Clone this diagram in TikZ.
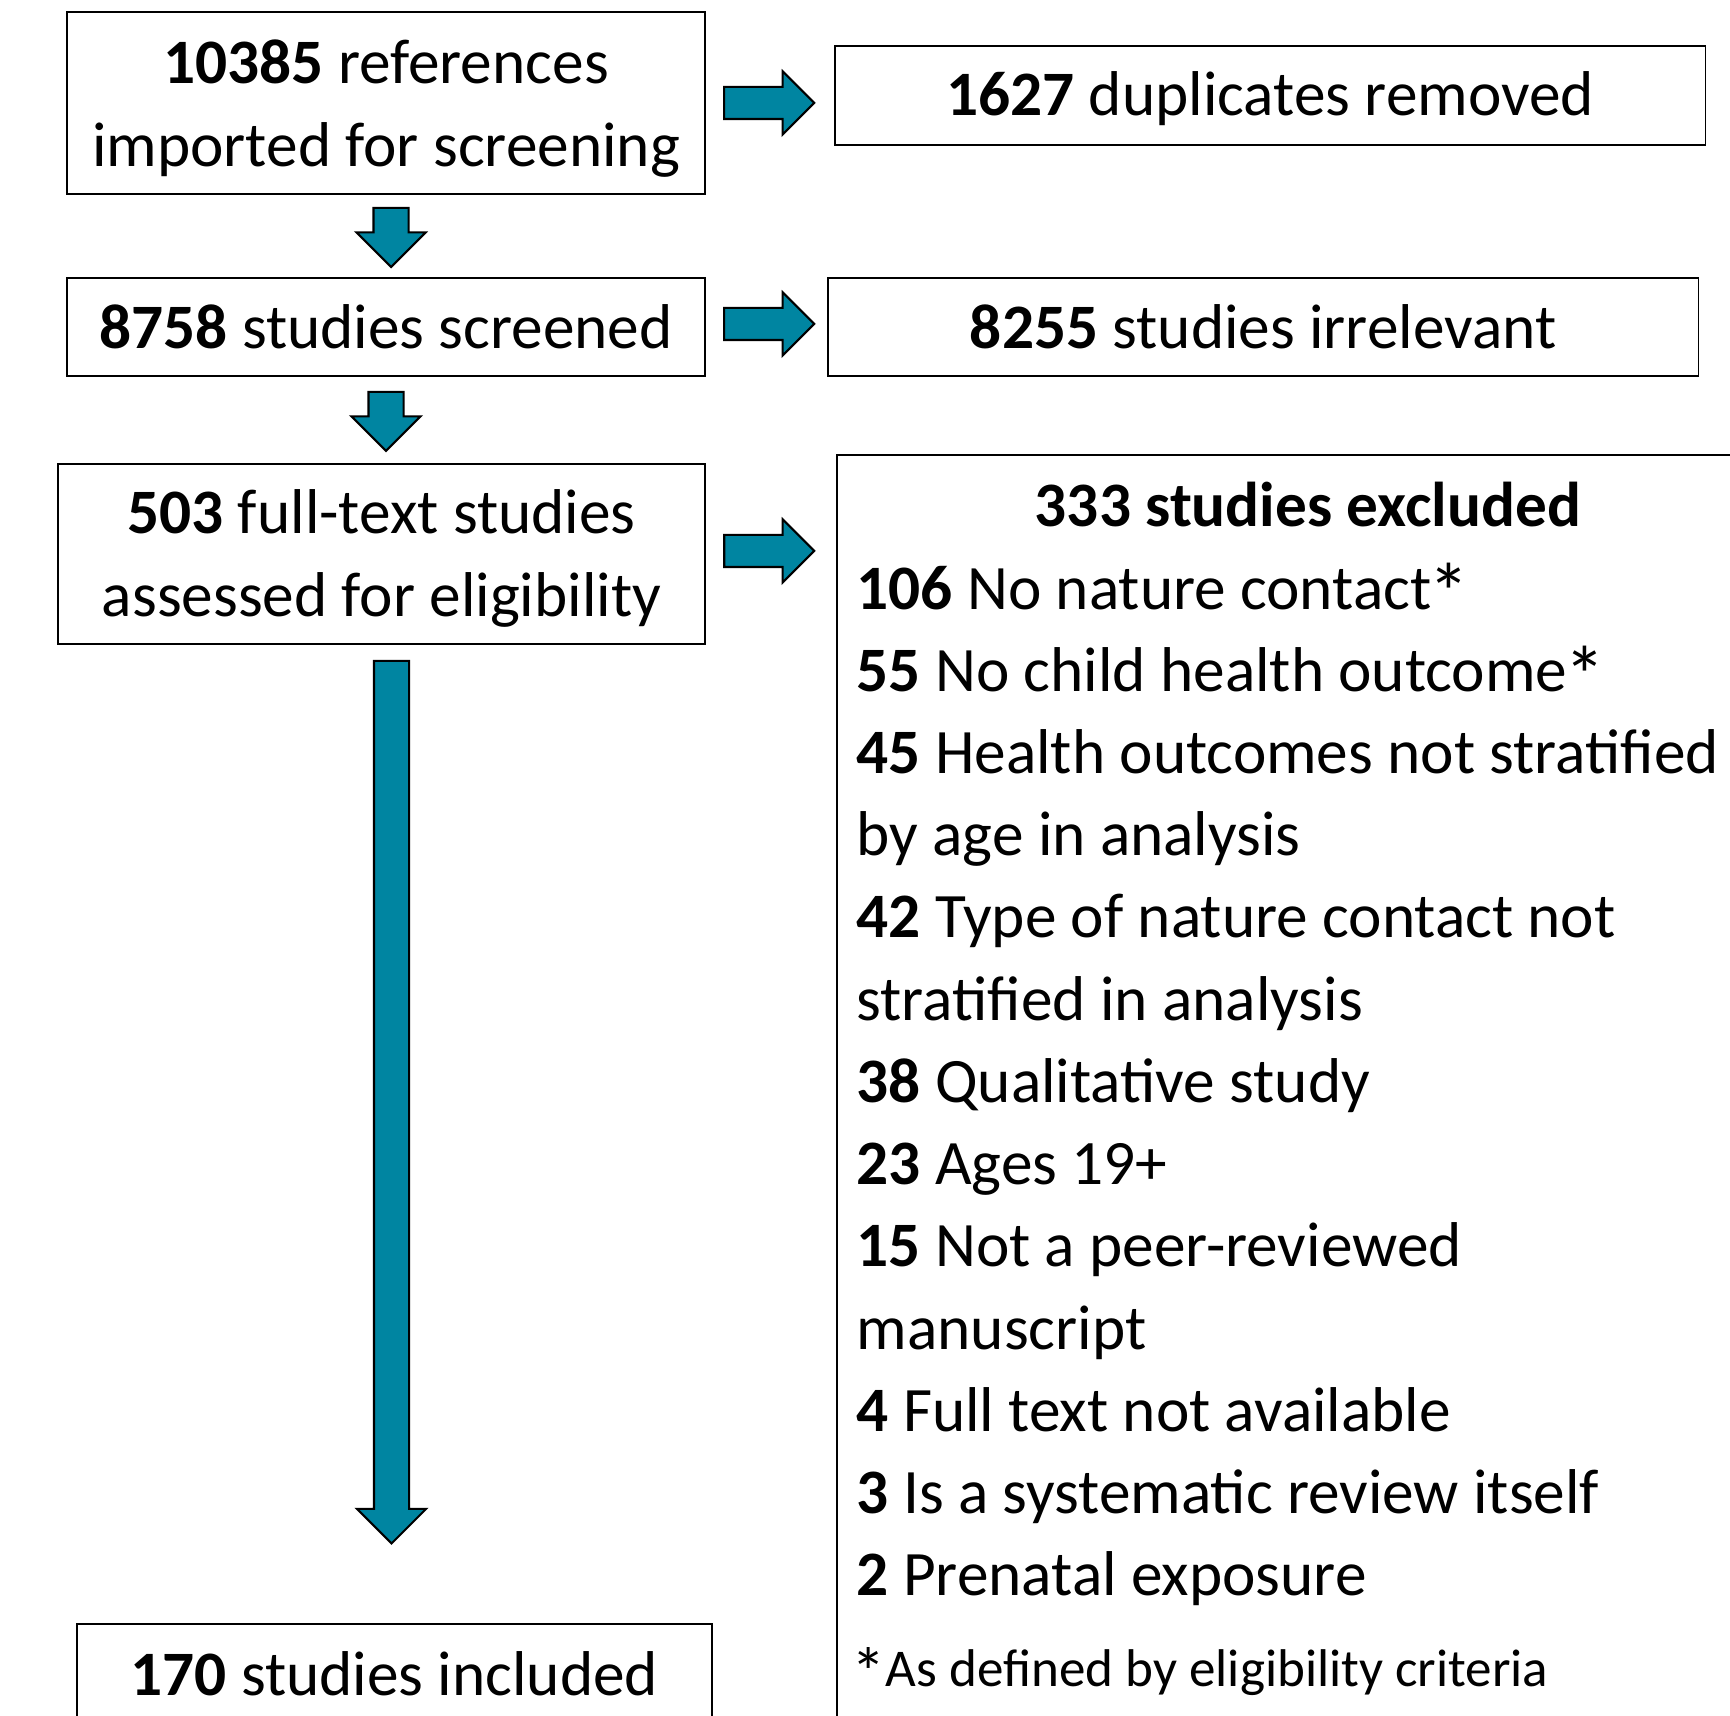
\documentclass[tikz,border=0pt]{standalone}
\usepackage{fontspec}
\setmainfont{Carlito}
\usetikzlibrary{shapes.arrows,calc}
\definecolor{arrowteal}{RGB}{0,133,161}
\newcommand{\starmark}{\kern-0.04em\raisebox{-0.2em}{\scalebox{1.3}{*}}}
% lower the ink of a text without changing its box
\newcommand{\lowered}[2]{\raisebox{-#1}[\height][\depth]{#2}}
\newcommand{\twolines}[3]{\lowered{#1}{\begin{tabular}{@{}c@{}}#2\\#3\end{tabular}}}

\tikzset{
  box/.style={draw=black, line width=0.5pt, rectangle, anchor=north west,
    inner sep=0pt, align=center, font=\fontsize{18pt}{23.5pt}\selectfont},
  listitem/.style={anchor=base west, inner sep=0pt, font=\fontsize{18pt}{23.3pt}\selectfont},
  rarrow/.style={single arrow, draw=black, fill=arrowteal, line width=0.6pt,
    inner sep=0.15cm, anchor=tail, single arrow head indent=0pt,
    minimum height=0.9cm, minimum width=0.61cm, single arrow head extend=0.155cm},
  darrow/.style={rarrow, shape border rotate=270, inner sep=0.165cm,
    minimum height=0.59cm, minimum width=0.67cm, single arrow head extend=0.17cm}
}

\begin{document}
\begin{tikzpicture}[x=0.01cm, y=-0.01cm]
  \useasboundingbox (0,0) rectangle (1730,1716);
  \clip (0,0) rectangle (1730,1716);

  % left column
  \node[box, minimum width=6.38cm, minimum height=1.82cm] (refs) at (66,11)
    {\twolines{1.5pt}{\textbf{10385} references}{imported for screening}};
  \node[box, minimum width=6.38cm, minimum height=0.98cm] (screened) at (66,277)
    {\textbf{8758} studies screened};
  \node[box, minimum width=6.47cm, minimum height=1.80cm] (full) at (57,463)
    {\twolines{1.3pt}{\textbf{503} full-text studies}{assessed for eligibility}};
  \node[box, minimum width=6.35cm, minimum height=1.00cm] (included) at (76,1623)
    {\textbf{170} studies included};

  % right column
  \node[box, minimum width=8.70cm, minimum height=0.99cm] (dups) at (834,45)
    {\lowered{1pt}{\textbf{1627} duplicates removed}};
  \node[box, minimum width=8.70cm, minimum height=0.98cm] (irrel) at (827,277)
    {\textbf{8255} studies irrelevant};
  \node[box, minimum width=9.50cm, minimum height=13.00cm] (excl) at (836,454) {};

  \node[listitem, anchor=base] (title) at (1308,527)
    {\textbf{333 studies excluded}};
  \foreach \txt [count=\k] in {\textbf{106} No nature contact\starmark,
      \textbf{55} No child health outcome\starmark,
      \textbf{45} Health outcomes not stratified,
      by age in analysis,
      \textbf{42} Type of nature contact not,
      stratified in analysis,
      \textbf{38} Qualitative study,
      \textbf{23} Ages 19+,
      \textbf{15} Not a peer-reviewed,
      manuscript,
      \textbf{4} Full text not available,
      \textbf{3} Is a systematic review itself,
      \textbf{2} Prenatal exposure}
    \node[listitem] (item\k) at (856,527+82.2*\k) {\txt};
  \node[listitem, font=\fontsize{15.1pt}{18pt}\selectfont] (note) at (853,1686)
    {\starmark As defined by eligibility criteria};

  % block arrows
  \node[rarrow] (a1) at ($(refs.east)+(17,0)$) {};
  \node[rarrow] (a2) at ($(screened.east)+(17,-3)$) {};
  \node[rarrow] (a3) at ($(full.east)+(17,-3)$) {};
  \node[darrow] (d1) at ($(refs.south)+(5,12)$) {};
  \node[darrow] (d2) at ($(screened.south)+(0,14)$) {};
  \node[darrow, minimum height=8.82cm] (d3) at ($(full.south)+(10,15)$) {};
\end{tikzpicture}
\end{document}
